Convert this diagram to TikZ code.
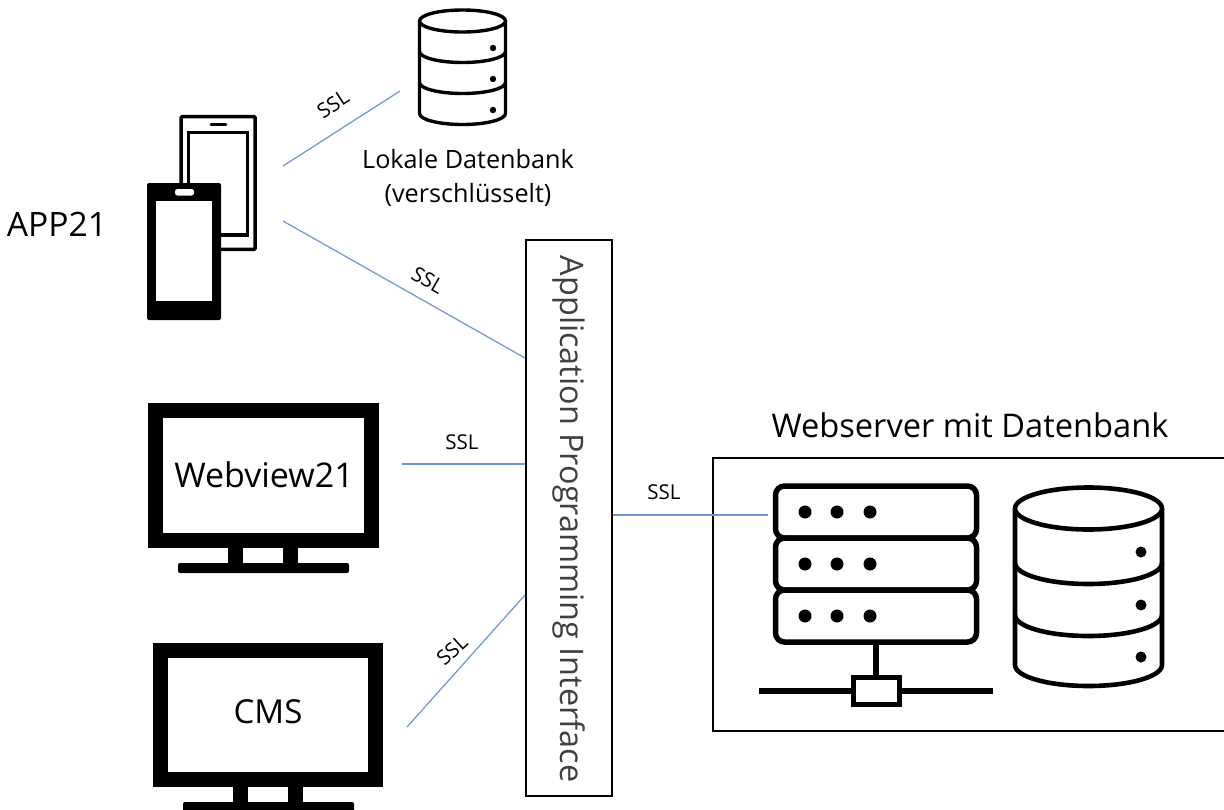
\documentclass[tikz,border=0pt]{standalone}
\usepackage{fontspec}
\setmainfont{Open Sans}
\definecolor{linkblue}{HTML}{6F94D2}
\definecolor{apitext}{HTML}{404040}
\tikzset{
  x=1pt,y=-1pt,
  link/.style={draw=linkblue,line width=1.2pt},
  ssl/.style={font=\fontsize{20.5}{22}\selectfont,inner sep=0pt},
  framebox/.style={draw=black,line width=2pt,inner sep=0pt},
  txt/.style={inner sep=0pt,font=\fontsize{#1}{#1}\selectfont},
  serverrow/.style={line width=5.5pt,rounded corners=9pt,fill=white},
}
\newcommand{\dbicon}[8]{%
  % cx, rx, ry, ytop, y1side, y2side, y3side, line width
  \draw[line width=#8pt,fill=white,line join=round] (#1-#2,#4) -- (#1-#2,#7) arc[start angle=180,end angle=360,x radius=#2,y radius=-#3] -- (#1+#2,#4);
  \draw[line width=#8pt,fill=white] (#1,#4) ellipse[x radius=#2,y radius=#3];
  \draw[line width=#8pt] (#1-#2,#5) arc[start angle=180,end angle=360,x radius=#2,y radius=-#3];
  \draw[line width=#8pt] (#1-#2,#6) arc[start angle=180,end angle=360,x radius=#2,y radius=-#3];
}
\newcommand{\monitor}[4]{%
  \fill (#1,#2) rectangle ++(#3,#4);
  \fill[white] (#1+15,#2+15) rectangle ++(#3-30,#4-30);
  \fill (#1+80,#2+#4) rectangle ++(15,16);
  \fill (#1+135,#2+#4) rectangle ++(15,16);
  \fill[rounded corners=2pt] (#1+30,#2+#4+15) rectangle ++(171,10);
}
\begin{document}
\begin{tikzpicture}
\useasboundingbox (0,0) rectangle (1224,809);
\fill[white] (0,0) rectangle (1224,809);

% back phone
\draw[line width=3.5pt,rounded corners=1pt] (181.2,116.7) rectangle (255,249.3);
\draw[line width=3.5pt] (188.7,132.7) rectangle (247.7,235);
\draw[line width=2.8pt,line cap=round] (211,124.5) -- (226,124.5);
% front phone
\fill[rounded corners=2pt] (147,183) rectangle (221,320);
\fill[white] (156,201) rectangle (212,301);
\fill[white,rounded corners=2.5pt] (175,189) rectangle (194,195.5);

% local database
\dbicon{462.5}{43}{11}{21}{51.5}{82.5}{113.5}{3.4}
\fill (493,48) circle[radius=3.2];
\fill (493,79) circle[radius=3.2];
\fill (493,110) circle[radius=3.2];

% monitors
\monitor{148}{403}{231}{145}
\monitor{153}{643}{230}{144}

% frames
\node[framebox,minimum width=86pt,minimum height=556pt] (api) at (569,518) {};
\node[framebox,minimum width=514pt,minimum height=273pt] (web) at (970,594.5) {};

% server icon
\draw[serverrow] (775.5,486) rectangle (976.5,538);
\draw[serverrow] (775.5,538) rectangle (976.5,590);
\draw[serverrow] (775.5,590) rectangle (976.5,642);
\foreach \yy in {512,564,616}
  \foreach \xx in {805,837,870}
    \fill (\xx,\yy) circle[radius=6.5];
\draw[line width=5.5pt] (876,645) -- (876,677);
\draw[line width=5.8pt] (759,691) -- (853,691);
\draw[line width=5.8pt] (900,691) -- (993,691);
\draw[line width=5.5pt] (853.5,677.5) rectangle (899.5,704.5);

% server database
\dbicon{1088.5}{73.5}{21}{508.5}{563}{615}{665}{4.6}
\fill (1141,552) circle[radius=5.5];
\fill (1141,605) circle[radius=5.5];
\fill (1141,657) circle[radius=5.5];

% named connector ends
\coordinate (phoneA) at (283,166);
\coordinate (localdb) at (400,91);
\coordinate (phoneB) at (283,221);
\coordinate (apiA) at (api.west |- 0,358);
\coordinate (webview) at (402,464);
\coordinate (apiB) at (api.west |- 0,464);
\coordinate (cms) at (407,727);
\coordinate (apiC) at (api.west |- 0,595);
\coordinate (apiD) at (api.east |- 0,515);
\coordinate (server) at (768,515);

\draw[link] (phoneA) -- (localdb);
\draw[link] (phoneB) -- (apiA);
\draw[link] (webview) -- (apiB);
\draw[link] (cms) -- (apiC);
\draw[link] (apiD) -- (server);

% labels
\node[txt=32.4,rotate=-90,text=apitext] (apilabel) at (569,519) {Application Programming Interface};
\node[txt=33.6] (app) at (57,224) {APP21};
\node[txt=25.2] (lokal) at (468,159) {Lokale Datenbank};
\node[txt=25.2] (versch) at (468,195) {(verschlüsselt)};
\node[txt=32.6] (webtitle) at (970,425) {Webserver mit Datenbank};
\node[txt=34] (webviewtext) at (264,475) {Webview21};
\node[txt=33] (cmstext) at (268,712) {CMS};
\node[ssl,rotate=33] (ssla) at (333,104) {SSL};
\node[ssl,rotate=-30] (sslb) at (428,280) {SSL};
\node[ssl] (sslc) at (462,442) {SSL};
\node[ssl,rotate=42] (ssld) at (452,650) {SSL};
\node[ssl] (ssle) at (664,492) {SSL};
\end{tikzpicture}
\end{document}
